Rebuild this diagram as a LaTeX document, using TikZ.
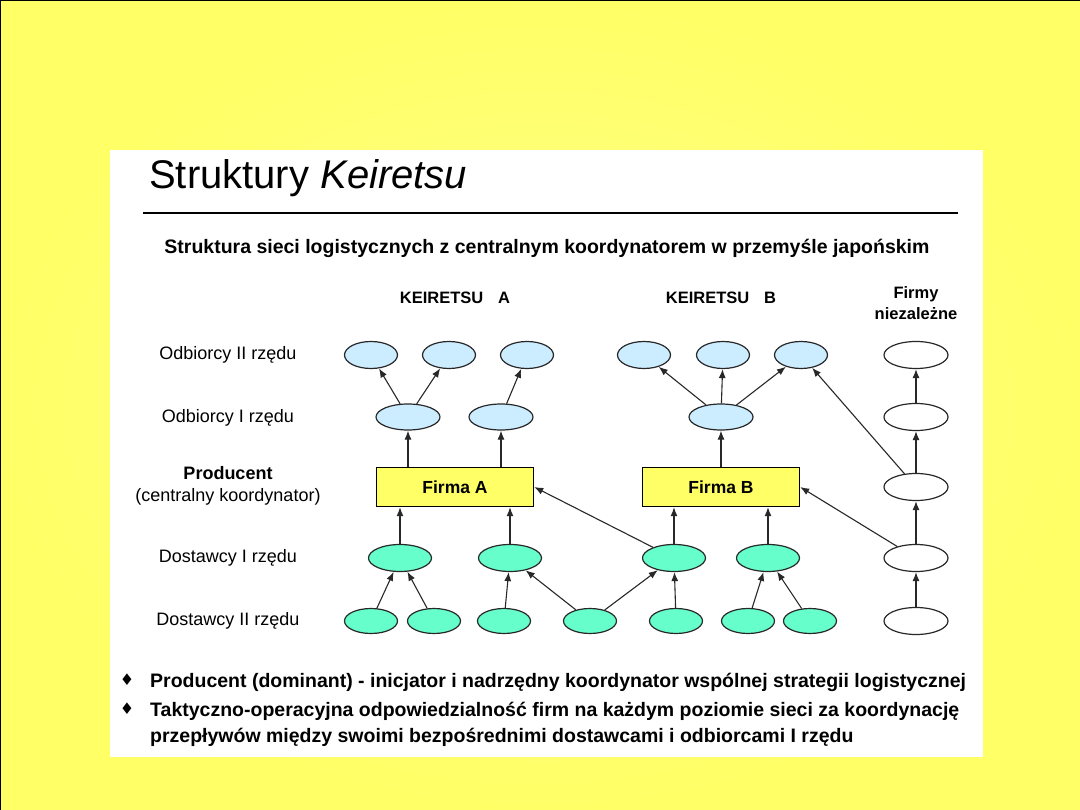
\documentclass[tikz,border=0pt]{standalone}
\usepackage{fontspec}
\setmainfont{Liberation Sans}
\newfontfamily\dejavu{DejaVu Sans}
\usetikzlibrary{shapes.geometric,arrows.meta}
\definecolor{bgy}{RGB}{255,255,102}
\definecolor{bgc}{RGB}{255,255,140}
\definecolor{lblue}{RGB}{204,236,255}
\definecolor{mint}{RGB}{102,255,204}
\definecolor{firmy}{RGB}{255,255,102}
\definecolor{ln}{RGB}{40,40,40}
\begin{document}
\begin{tikzpicture}[x=1pt,y=-1pt,
 ell/.style={ellipse,draw=ln,line width=1.2pt,inner sep=0pt,minimum height=27pt},
 bl/.style={ell,fill=lblue,minimum width=53pt},
 bl1/.style={ell,fill=lblue,minimum width=64pt,minimum height=26pt},
 gr1/.style={ell,fill=mint,minimum width=63pt},
 gr2/.style={ell,fill=mint,minimum width=53pt,minimum height=25pt},
 wh/.style={ell,fill=white,minimum width=64pt},
 firm/.style={rectangle,draw=black,line width=1.4pt,fill=firmy,minimum width=157pt,minimum height=39pt,inner sep=0pt,font=\fontsize{17.5}{20}\selectfont\bfseries},
 arr/.style={draw=ln,line width=1.1pt,-{Latex[length=9pt,width=7pt]}},
 lab/.style={font=\fontsize{18}{22}\selectfont,align=center},
 hd/.style={font=\fontsize{16.5}{20}\selectfont\bfseries,align=center},
 bul/.style={font=\fontsize{19.5}{23}\selectfont\bfseries,anchor=base west,inner sep=0pt},
 dia/.style={font=\dejavu\fontsize{16}{18}\selectfont,inner sep=0pt},
]
\useasboundingbox (0,0) rectangle (1080,810);
\shade[inner color=bgc, outer color=bgy] (0,0) rectangle (1080,810);
\draw[black,line width=2.5pt] (0,810) -- (0,0) -- (1080,0);
\fill[white] (110,150) rectangle (983,757);

% title
\node[anchor=base west,inner sep=0pt,font=\fontsize{40}{44}\selectfont] (title) at (149,189) {Struktury \textit{Keiretsu}};
\draw[black,line width=1.4pt] (143,213) -- (958,213);
\node[font=\fontsize{19.5}{23}\selectfont\bfseries,anchor=base,inner sep=0pt] (sub) at (547,254) {Struktura sieci logistycznych z centralnym koordynatorem w przemyśle japońskim};

% headers
\node[hd] (hA) at (455,298) {KEIRETSU\hspace{0.9em}A};
\node[hd] (hB) at (721,298) {KEIRETSU\hspace{0.9em}B};
\node[hd] (hC) at (916,303) {Firmy\\[1pt]niezależne};

% left labels
\node[lab] (l1) at (228,355) {Odbiorcy II rzędu};
\node[lab] (l2) at (228,418) {Odbiorcy I rzędu};
\node[lab] (l3) at (228,486) {\textbf{Producent}\\(centralny koordynator)};
\node[lab] (l4) at (228,558) {Dostawcy I rzędu};
\node[lab] (l5) at (228,621) {Dostawcy II rzędu};

% Odbiorcy II
\node[bl] (o2a) at (371,355) {};
\node[bl] (o2b) at (449,355) {};
\node[bl] (o2c) at (527,355) {};
\node[bl] (o2d) at (644,355) {};
\node[bl] (o2e) at (723,355) {};
\node[bl] (o2f) at (801,355) {};
\node[wh] (o2w) at (916,355) {};
% Odbiorcy I
\node[bl1] (o1a) at (408,417) {};
\node[bl1] (o1b) at (501,417) {};
\node[bl1] (o1c) at (721,417) {};
\node[wh] (o1w) at (916,417) {};
% Producent
\node[firm] (fA) at (455,487) {Firma A};
\node[firm] (fB) at (721,487) {Firma B};
\node[wh] (pw) at (916,487) {};
% Dostawcy I
\node[gr1] (d1a) at (400,558) {};
\node[gr1] (d1b) at (510,558) {};
\node[gr1] (d1c) at (674,558) {};
\node[gr1] (d1d) at (768,558) {};
\node[wh] (d1w) at (916,558) {};
% Dostawcy II
\node[gr2] (d2a) at (371,621) {};
\node[gr2] (d2b) at (434,621) {};
\node[gr2] (d2c) at (504,621) {};
\node[gr2] (d2d) at (590,621) {};
\node[gr2] (d2e) at (676,621) {};
\node[gr2] (d2f) at (748,621) {};
\node[gr2] (d2g) at (810,621) {};
\node[wh] (d2w) at (916,621) {};

% edges: odbiorcy
\draw[arr] (o1a) -- (o2a);
\draw[arr] (o1a) -- (o2b);
\draw[arr] (o1b) -- (o2c);
\draw[arr] (o1c) -- (o2d);
\draw[arr] (o1c) -- (o2e);
\draw[arr] (o1c) -- (o2f);
\draw[arr] (o1w) -- (o2w);
\draw[arr] (o1a |- fA.north) -- (o1a);
\draw[arr] (o1b |- fA.north) -- (o1b);
\draw[arr] (o1c |- fB.north) -- (o1c);
\draw[arr] (pw) -- (o1w);
\draw[arr] (pw) -- (o2f);
% edges: dostawcy I -> producent
\draw[arr] (d1a) -- (d1a |- fA.south);
\draw[arr] (d1b) -- (d1b |- fA.south);
\draw[arr] (d1c) -- (fA.east);
\draw[arr] (d1c) -- (d1c |- fB.south);
\draw[arr] (d1d) -- (d1d |- fB.south);
\draw[arr] (d1w) -- (fB.east);
\draw[arr] (d1w) -- (pw);
% edges: dostawcy II -> dostawcy I
\draw[arr] (d2a) -- (d1a);
\draw[arr] (d2b) -- (d1a);
\draw[arr] (d2c) -- (d1b);
\draw[arr] (d2d) -- (d1b);
\draw[arr] (d2d) -- (d1c);
\draw[arr] (d2e) -- (d1c);
\draw[arr] (d2f) -- (d1d);
\draw[arr] (d2g) -- (d1d);
\draw[arr] (d2w) -- (d1w);

% bullets
\node[dia] (b1) at (127,680) {♦};
\node[dia] (b2) at (127,709) {♦};
\node[bul] (t1) at (150,687) {Producent (dominant) - inicjator i nadrzędny koordynator wspólnej strategii logistycznej};
\node[bul] (t2) at (150,716) {Taktyczno-operacyjna odpowiedzialność firm na każdym poziomie sieci za koordynację};
\node[bul] (t3) at (150,742) {przepływów między swoimi bezpośrednimi dostawcami i odbiorcami I rzędu};
\end{tikzpicture}
\end{document}
